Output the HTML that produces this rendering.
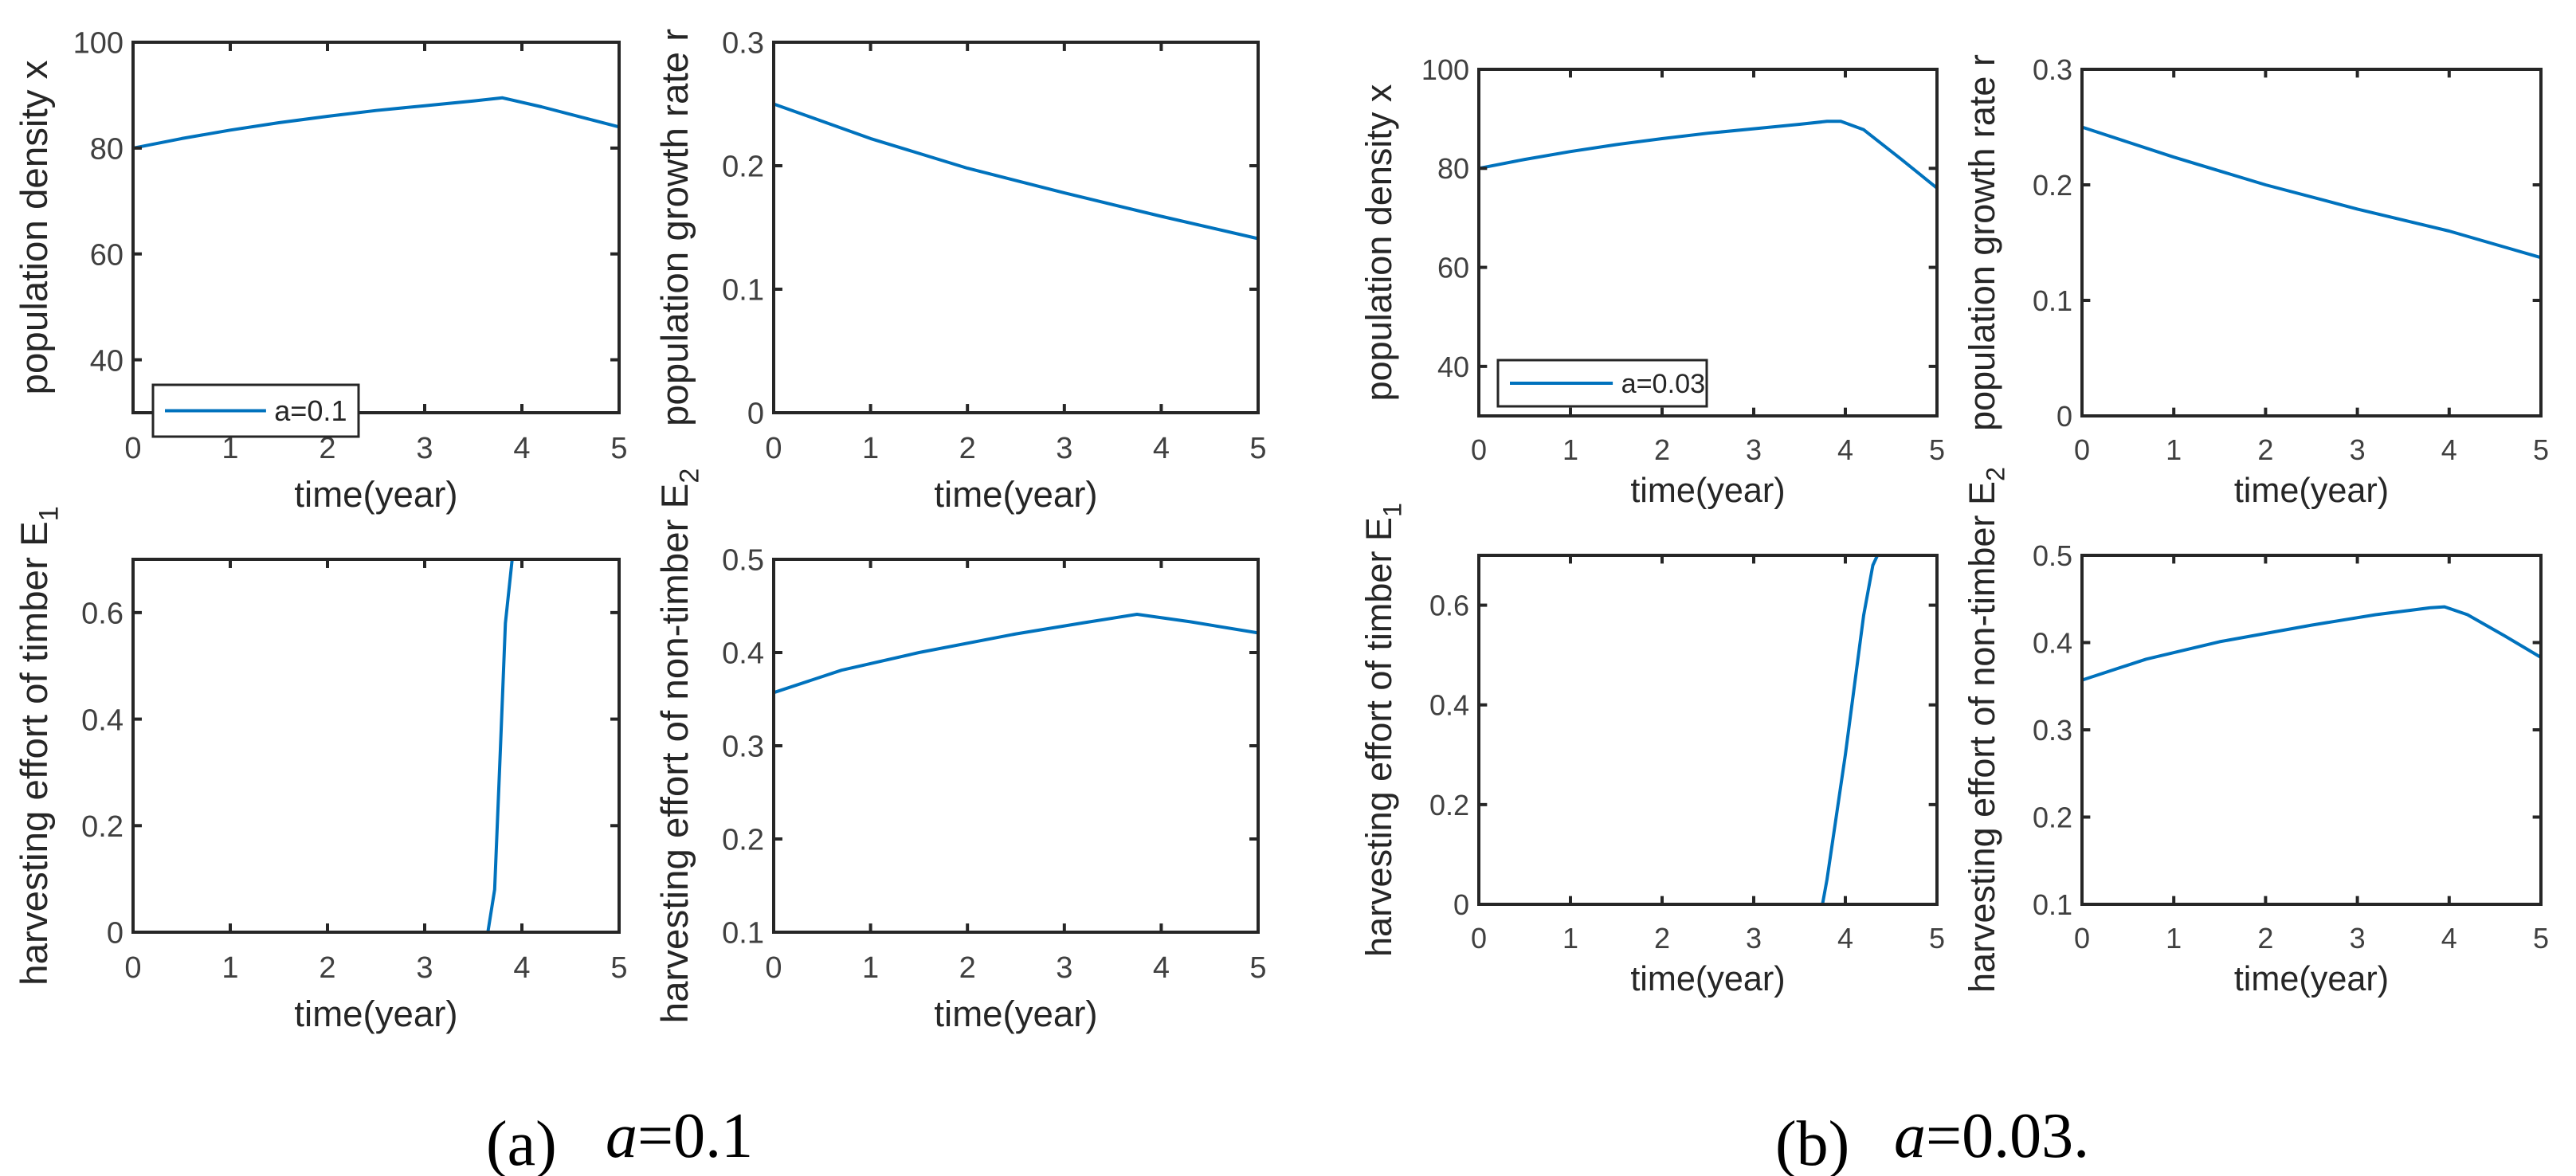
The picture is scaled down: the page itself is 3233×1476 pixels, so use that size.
<!DOCTYPE html>
<html><head><meta charset="utf-8"><style>
html,body{margin:0;padding:0;background:#fff;}
svg{display:block;font-family:"Liberation Sans",Arial,sans-serif;}
</style></head>
<body>
<svg id="fig" width="3233" height="1476" viewBox="0 0 3233 1476" xmlns="http://www.w3.org/2000/svg">
<rect width="3233" height="1476" fill="#fff"/>
<text x="610" y="1462" font-family="Liberation Serif,serif" font-size="80" fill="#000">(a)</text>
<text x="760" y="1452" font-family="Liberation Serif,serif" font-size="80" fill="#000"><tspan font-style="italic">a</tspan>=0.1</text>
<text x="2228" y="1462" font-family="Liberation Serif,serif" font-size="80" fill="#000">(b)</text>
<text x="2377" y="1452" font-family="Liberation Serif,serif" font-size="80" fill="#000"><tspan font-style="italic">a</tspan>=0.03.</text>
</svg>
<script>
// ---- data ----
const xTicks = [0,1,2,3,4,5];
const popTicks = [40,60,80,100];
const rateTicks = [0,0.1,0.2,0.3];
const e1Ticks = [0,0.2,0.4,0.6];
const e2Ticks = [0.1,0.2,0.3,0.4,0.5];
const popTickLabels = ['40','60','80','100'];
const rateTickLabels = ['0','0.1','0.2','0.3'];
const e1TickLabels = ['0','0.2','0.4','0.6'];
const e2TickLabels = ['0.1','0.2','0.3','0.4','0.5'];

const aPopT = [0,0.5,1,1.5,2,2.5,3,3.5,3.8,4.2,4.6,5];
const aPopV = [80,81.8,83.4,84.8,86,87.1,88,88.9,89.5,87.8,85.9,84];
const aRateT = [0,1,2,3,4,5];
const aRateV = [0.25,0.222,0.198,0.178,0.159,0.141];
const aE1T = [0,3.65,3.72,3.78,3.83,3.9,5];
const aE1V = [0,0,0.08,0.35,0.58,0.7,0.7];
const aE2T = [0,0.7,1.5,2.5,3.2,3.75,4.3,5];
const aE2V = [0.357,0.381,0.4,0.42,0.432,0.441,0.433,0.421];

const bPopT = [0,0.5,1,1.5,2,2.5,3,3.5,3.8,3.95,4.2,4.6,5];
const bPopV = [80,81.8,83.4,84.8,86,87.1,88,88.9,89.5,89.5,87.8,82,76];
const bRateT = [0,1,2,3,4,5];
const bRateV = [0.25,0.224,0.2,0.179,0.16,0.137];
const bE1T = [0,3.75,3.8,4.0,4.2,4.3,4.35,5];
const bE1V = [0,0,0.05,0.3,0.58,0.68,0.7,0.7];
const bE2T = [0,0.7,1.5,2.5,3.2,3.8,3.95,4.2,4.6,5];
const bE2V = [0.357,0.381,0.401,0.42,0.432,0.44,0.441,0.432,0.408,0.383];

const NS='http://www.w3.org/2000/svg';
const svg=document.getElementById('fig');
function mk(tag,attrs,parent){const e=document.createElementNS(NS,tag);for(const k in attrs)e.setAttribute(k,attrs[k]);(parent||svg).appendChild(e);return e;}

function panel(id,box,ymin,ymax,yt,ytl,T,V,ylabel,sub,fs,xlOff,legend){
  const g=mk('g',{});
  
  
  const sx=t=>box.l+(t-0)/(5-0)*(box.r-box.l);
  const sy=v=>box.b-(v-ymin)/(ymax-ymin)*(box.b-box.t);
  const d=T.map((t,i)=>(i?'L':'M')+sx(t).toFixed(1)+','+sy(V[i]).toFixed(1)).join('');
  const p=mk('path',{d:d,fill:'none',stroke:'#0072BD','stroke-width':4,'stroke-linejoin':'round'},g);
  
  
  const fr=mk('rect',{x:box.l,y:box.t,width:box.r-box.l,height:box.b-box.t,fill:'none',stroke:'#262626','stroke-width':4},g);
  
  
  const tl=(box.r-box.l)*0.018;
  xTicks.forEach(t=>{
    const x=sx(t);
    mk('line',{x1:x,y1:box.b,x2:x,y2:box.b-tl,stroke:'#262626','stroke-width':4},g);
    mk('line',{x1:x,y1:box.t,x2:x,y2:box.t+tl,stroke:'#262626','stroke-width':4},g);
    const tx=mk('text',{x:x,y:box.b+xlOff[0],'font-size':fs,fill:'#404040','text-anchor':'middle'},g);
    tx.textContent=String(t);
    
    
  });
  yt.forEach((v,i)=>{
    const y=sy(v);
    mk('line',{x1:box.l,y1:y,x2:box.l+tl,y2:y,stroke:'#262626','stroke-width':4},g);
    mk('line',{x1:box.r,y1:y,x2:box.r-tl,y2:y,stroke:'#262626','stroke-width':4},g);
    const tx=mk('text',{x:box.l-12,y:y+fs*0.36,'font-size':fs,fill:'#404040','text-anchor':'end'},g);
    tx.textContent=ytl[i];
    
    
  });
  const xl=mk('text',{x:(box.l+box.r)/2,y:box.b+xlOff[1],'font-size':fs*1.2,fill:'#262626','text-anchor':'middle'},g);
  xl.textContent='time(year)';
  
  
  const cx=box.l-xlOff[2], cy=(box.t+box.b)/2;
  const yl=mk('text',{x:cx,y:cy,'font-size':fs*1.25,fill:'#262626','text-anchor':'middle',transform:'rotate(-90 '+cx+' '+cy+')'},g);
  yl.textContent=ylabel;
  if(sub){const s=mk('tspan',{dy:fs*0.35,'font-size':fs*0.9},yl);s.textContent=sub;}
  
  
  if(legend){
    const lg=mk('g',{},g);
    
    
    mk('rect',{x:legend.x,y:legend.y,width:legend.w,height:legend.h,fill:'#fff',stroke:'#262626','stroke-width':3},lg);
    mk('line',{x1:legend.x+15,y1:legend.y+legend.h/2,x2:legend.x+legend.w*0.55,y2:legend.y+legend.h/2,stroke:'#0072BD','stroke-width':4},lg);
    const lt=mk('text',{x:legend.x+legend.w*0.59,y:legend.y+legend.h/2+fs*0.33,'font-size':fs*0.95,fill:'#262626'},lg);
    lt.textContent=legend.text;
    
    
  }
}
const FA=38, FB=36;
panel('a-population-density',{l:167,r:777,t:53,b:518},30,100,popTicks,popTickLabels,aPopT,aPopV,'population density x',null,FA,[57,118,108],{x:192,y:483,w:258,h:65,text:'a=0.1'});
panel('a-growth-rate',{l:971,r:1579,t:53,b:518},0,0.3,rateTicks,rateTickLabels,aRateT,aRateV,'population growth rate r',null,FA,[57,118,108]);
panel('a-timber-effort',{l:167,r:777,t:702,b:1170},0,0.7,e1Ticks,e1TickLabels,aE1T,aE1V,'harvesting effort of timber E',"1",FA,[57,118,108]);
panel('a-nontimber-effort',{l:971,r:1579,t:702,b:1170},0.1,0.5,e2Ticks,e2TickLabels,aE2T,aE2V,'harvesting effort of non-timber E',"2",FA,[57,118,108]);
panel('b-population-density',{l:1856,r:2431,t:87,b:522},30,100,popTicks,popTickLabels,bPopT,bPopV,'population density x',null,FB,[55,108,110],{x:1880,y:452,w:262,h:58,text:'a=0.03'});
panel('b-growth-rate',{l:2613,r:3189,t:87,b:522},0,0.3,rateTicks,rateTickLabels,bRateT,bRateV,'population growth rate r',null,FB,[55,108,110]);
panel('b-timber-effort',{l:1856,r:2431,t:697,b:1135},0,0.7,e1Ticks,e1TickLabels,bE1T,bE1V,'harvesting effort of timber E',"1",FB,[55,108,110]);
panel('b-nontimber-effort',{l:2613,r:3189,t:697,b:1135},0.1,0.5,e2Ticks,e2TickLabels,bE2T,bE2V,'harvesting effort of non-timber E',"2",FB,[55,108,110]);
</script>
</body></html>
